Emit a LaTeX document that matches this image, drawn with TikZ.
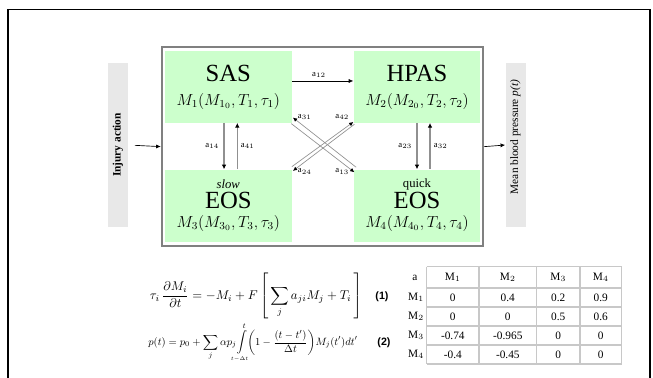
\documentclass[tikz,border=0pt]{standalone}
\usepackage{fontspec}
\setmainfont{Liberation Serif}
\newfontfamily\eqnumfont{Liberation Sans}
\usetikzlibrary{arrows.meta,calc}
\definecolor{boxgreen}{HTML}{CCFFCC}
\definecolor{barfill}{HTML}{E8E8E8}
\definecolor{framegray}{HTML}{808080}
\definecolor{linegray}{HTML}{909090}
\definecolor{tabgray}{HTML}{C8C8C8}
\begin{document}
\begin{tikzpicture}[x=0.75pt,y=-0.75pt,
  greenbox/.style={fill=boxgreen,draw=none,minimum width=95pt,minimum height=54pt,inner sep=0pt},
  sidebar/.style={fill=barfill,draw=none,minimum width=15pt,minimum height=123pt,inner sep=0pt},
  arr/.style={draw=black,line width=0.5pt,-{Latex[length=3.5pt,width=3pt]}},
  garr/.style={draw=linegray,line width=0.9pt,-{Latex[length=3.5pt,width=3.5pt,fill=black,color=black]}},
  xarr/.style={draw=linegray,line width=0.5pt,-{Latex[length=3.2pt,width=3pt,fill=black,color=black]}},
  lab/.style={font=\fontsize{6.5}{7}\selectfont,inner sep=0.5pt},
  big/.style={font=\fontsize{18.5}{20}\selectfont,inner sep=0pt},
  frm/.style={font=\fontsize{11.5}{13}\selectfont,inner sep=0pt},
  small/.style={font=\fontsize{9.5}{11}\selectfont,inner sep=0pt},
  tabtxt/.style={font=\fontsize{8.5}{10}\selectfont,inner sep=0pt},
  eqnum/.style={font=\eqnumfont\bfseries\fontsize{8}{9}\selectfont,inner sep=0pt}]
\useasboundingbox (0,0) rectangle (653,378);
% outer frame
\draw[black,line width=1.1pt] (8,380) -- (8,9.3) -- (650,9.3) -- (650,380);
% main frame
\node[draw=framegray,line width=1.5pt,minimum width=241pt,minimum height=149pt,inner sep=0pt] (main) at (322.5,146.65) {};
% boxes
\node[greenbox] (sas) at (228.3,86.7) {};
\node[greenbox] (hpas) at (417,86.7) {};
\node[greenbox] (seos) at (228.3,205.5) {};
\node[greenbox] (qeos) at (417,205.5) {};
% box texts
\node[big] (sasT) at (228.3,73) {SAS};
\node[frm] (sasM) at (228.3,101) {$M_1\bigl(M_{1_0},T_1,\tau_1\bigr)$};
\node[big] (hpasT) at (417,73) {HPAS};
\node[frm] (hpasM) at (417,101) {$M_2\bigl(M_{2_0},T_2,\tau_2\bigr)$};
\node[small] (seosS) at (228.3,184) {\itshape slow};
\node[big] (seosT) at (228.3,200.5) {EOS};
\node[frm] (seosM) at (228.3,223) {$M_3\bigl(M_{3_0},T_3,\tau_3\bigr)$};
\node[small] (qeosS) at (417,184) {quick};
\node[big] (qeosT) at (417,200.5) {EOS};
\node[frm] (qeosM) at (417,223) {$M_4\bigl(M_{4_0},T_4,\tau_4\bigr)$};
% side bars
\node[sidebar] (inj) at (118,145) {};
\node[rotate=90,font=\bfseries\fontsize{8.5}{10}\selectfont] (injT) at (118,145) {Injury action};
\node[sidebar] (mbp) at (515.5,145) {};
\node[rotate=90,font=\fontsize{8.5}{10}\selectfont] (mbpT) at (515.5,137) {Mean blood pressure \textit{p(t)}};
\draw[arr,shorten <=5pt] (inj.east) -- (main.west);
\draw[arr] (main.east) -- (mbp.west);
% a12
\draw[arr] ([yshift=4.3pt]sas.east) -- ([yshift=4.3pt]hpas.west);
\node[lab] at (319,75) {a$_{12}$};
% verticals left
\draw[garr] ([xshift=-3.2pt]sas.south) -- ([xshift=-3.2pt]seos.north);
\draw[garr] ([xshift=6.75pt]seos.north) -- ([xshift=6.75pt]sas.south);
\node[lab,anchor=east] at (220,146) {a$_{14}$};
\node[lab,anchor=west] at (240,146) {a$_{41}$};
% verticals right
\draw[garr] (hpas.south) -- (qeos.north);
\draw[garr] ([xshift=9.75pt]qeos.north) -- ([xshift=9.75pt]hpas.south);
\node[lab,anchor=east] at (413,146) {a$_{23}$};
\node[lab,anchor=west] at (433,146) {a$_{32}$};
% crossing
\draw[xarr] ($(qeos.north west)+(2.7,-2)$) -- ($(sas.south east)+(1,-5.4)$);
\draw[xarr] ($(sas.south east)+(-0.7,0.6)$) -- ($(qeos.north west)+(1,3)$);
\draw[xarr] ($(seos.north east)+(0,-2.6)$) -- ($(hpas.south west)+(0,-1)$);
\draw[xarr] ($(hpas.south west)+(1,1.3)$) -- ($(seos.north east)+(1,1.7)$);
\node[lab,anchor=west] at (297,117) {a$_{31}$};
\node[lab,anchor=east] at (350,117) {a$_{42}$};
\node[lab,anchor=west] at (297,171.5) {a$_{24}$};
\node[lab,anchor=east] at (350,171.5) {a$_{13}$};
% equations
\node[inner sep=0pt] (eq1) at (256,296) {\resizebox{159pt}{!}{$\displaystyle \tau_i\,\frac{\partial M_i}{\partial t}=-M_i+F\left[\,\sum_j a_{ji}M_j+T_i\,\right]$}};
\node[eqnum] (n1) at (382,297) {(1)};
\node[inner sep=0pt] (eq2) at (253,343) {\resizebox{157pt}{!}{$\displaystyle p(t)=p_0+\sum_j\alpha p_j\!\int\limits_{\makebox[0pt]{$\scriptscriptstyle t-\Delta t$}}^{t}\!\left(1-\frac{(t-t')}{\Delta t}\right)\!M_j(t')dt'$}};
\node[eqnum] (n2) at (384,343) {(2)};
% table
\foreach \yy in {266.7,288,307,326,345,364}
  \draw[tabgray,line width=0.9pt] (426.7,\yy) -- (621.7,\yy);
\foreach \xx in {426.7,479,536.7,580,621.7}
  \draw[tabgray,line width=0.9pt] (\xx,266.7) -- (\xx,364);
\node[tabtxt] (ta) at (415,277.5) {a};
\foreach \xx/\i in {452.8/1,507.8/2,558.3/3,600.8/4}
  \node[tabtxt] (th\i) at (\xx,277.5) {M$_{\i}$};
\foreach \yy/\i in {297.5/1,316.5/2,335.5/3,354.5/4}
  \node[tabtxt] (tr\i) at (416,\yy) {M$_{\i}$};
\foreach \v [count=\c] in {0,0.4,0.2,0.9}
  \node[tabtxt] at ({\c==1?452.8:(\c==2?507.8:(\c==3?558.3:600.8))},297.5) {\v};
\foreach \v [count=\c] in {0,0,0.5,0.6}
  \node[tabtxt] at ({\c==1?452.8:(\c==2?507.8:(\c==3?558.3:600.8))},316.5) {\v};
\foreach \v [count=\c] in {-0.74,-0.965,0,0}
  \node[tabtxt] at ({\c==1?452.8:(\c==2?507.8:(\c==3?558.3:600.8))},335.5) {\v};
\foreach \v [count=\c] in {-0.4,-0.45,0,0}
  \node[tabtxt] at ({\c==1?452.8:(\c==2?507.8:(\c==3?558.3:600.8))},354.5) {\v};
\end{tikzpicture}
\end{document}
